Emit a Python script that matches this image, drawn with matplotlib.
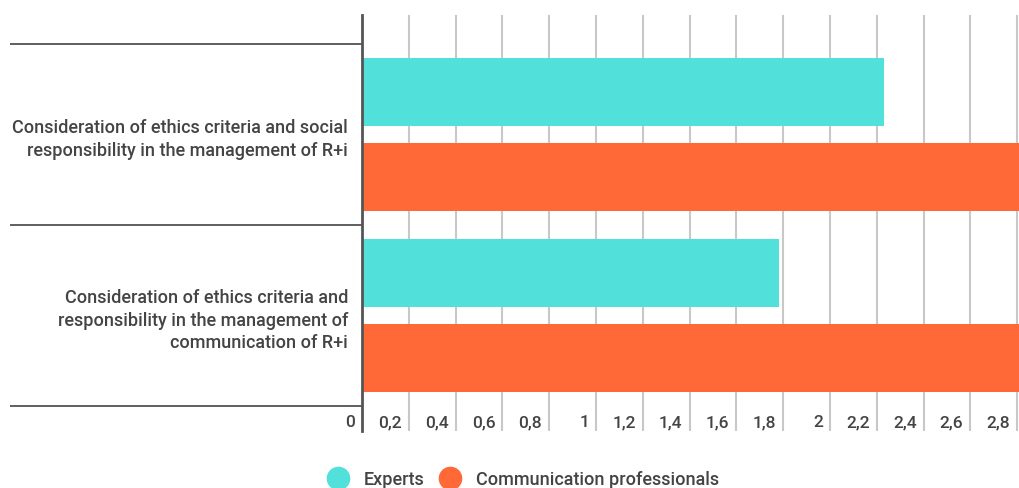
import matplotlib
matplotlib.use("Agg")
import matplotlib.pyplot as plt
import matplotlib.transforms as mtransforms
from matplotlib.lines import Line2D
import numpy as np

plt.rcParams['font.family'] = ['Roboto', 'DejaVu Sans']
plt.rcParams['font.weight'] = 'medium'

categories = [
    "Consideration of ethics criteria and social\nresponsibility in the management of R+i",
    "Consideration of ethics criteria and\nresponsibility in the management of\ncommunication of R+i",
]
series_names = ["Experts", "Communication professionals"]
experts = [2.23, 1.78]
professionals = [3.0, 3.0]
xticks = [0, 0.2, 0.4, 0.6, 0.8, 1, 1.2, 1.4, 1.6, 1.8, 2, 2.2, 2.4, 2.6, 2.8]
xtick_labels = ["0", "0,2", "0,4", "0,6", "0,8", "1", "1,2", "1,4", "1,6", "1,8",
                "2", "2,2", "2,4", "2,6", "2,8"]

teal = "#52E0DA"
orange = "#FF6938"
text_color = "#444444"
fs = 13

fig = plt.figure(figsize=(10.2, 4.89), dpi=100)
ax = fig.add_axes([362 / 1020, 1 - 432 / 489, 1 - 362 / 1020, 416 / 489])

y = np.arange(len(categories))
bar_h = 0.376
offset = 0.235
ax.barh(y - offset, experts, height=bar_h, color=teal, zorder=3)
ax.barh(y + offset, professionals, height=bar_h, color=orange, zorder=3)

ax.set_xlim(0, 2.812)
ax.set_ylim(1.638, -0.660)

# vertical grid
ax.set_xticks(xticks)
ax.set_xticklabels(xtick_labels)
ax.grid(axis="x", color="#c8c8c8", linewidth=1.5, zorder=1)
ax.tick_params(axis="x", length=0, pad=-12, labelsize=12.5, labelcolor=text_color)
shift = mtransforms.ScaledTranslation(-7 / 100, 0, fig.dpi_scale_trans)
for lbl in ax.get_xticklabels():
    lbl.set_horizontalalignment("right")
    lbl.set_verticalalignment("top")
    lbl.set_transform(lbl.get_transform() + shift)

# category labels and separators
ax.set_yticks(y)
ax.set_yticklabels(categories, fontsize=fs, color=text_color, linespacing=1.3)
ax.tick_params(axis="y", which="major", length=0, pad=10)
ax.set_yticks([-0.5, 0.5, 1.5], minor=True)
ax.tick_params(axis="y", which="minor", length=253.5, width=1.2, color="#444444",
               direction="out")

for s in ["top", "right", "bottom"]:
    ax.spines[s].set_visible(False)
ax.spines["left"].set_color("#555555")
ax.spines["left"].set_linewidth(2)
ax.spines["left"].set_zorder(4)

handles = [
    Line2D([], [], marker="o", linestyle="", markersize=16, color=teal),
    Line2D([], [], marker="o", linestyle="", markersize=16, color=orange),
]
fig.legend(handles, series_names, loc="center", ncol=2, frameon=False,
           bbox_to_anchor=(523 / 1020, 1 - 480 / 489), fontsize=fs,
           labelcolor=text_color, handletextpad=0.8, columnspacing=0.85,
           handlelength=1.2)

fig.savefig("out.png", dpi=100)
